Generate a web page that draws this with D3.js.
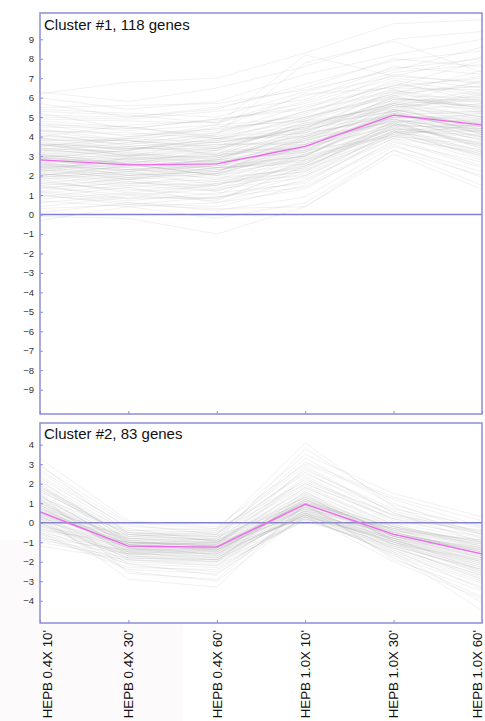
<!DOCTYPE html>
<html>
<head>
<meta charset="utf-8">
<script src="https://cdn.jsdelivr.net/npm/d3@7"></script>
<style>
  body { margin: 0; background: #fff; }
  svg { display: block; font-family: Arial, "Liberation Sans", sans-serif; }
</style>
</head>
<body>
<div id="chart"></div>
<script>
// conditions along the x axis
const timepoints = ["HEPB 0.4X 10'", "HEPB 0.4X 30'", "HEPB 0.4X 60'", "HEPB 1.0X 10'", "HEPB 1.0X 30'", "HEPB 1.0X 60'"];

const cluster1Title = "Cluster #1, 118 genes";
const cluster1Ticks = [-9, -8, -7, -6, -5, -4, -3, -2, -1, 0, 1, 2, 3, 4, 5, 6, 7, 8, 9];
const cluster1Mean = [2.8, 2.55, 2.6, 3.5, 5.1, 4.6];
const cluster1Genes = [
  [2.8,2.3,2.6,3.1,4.9,4.2],[3.6,3.1,2.7,4.3,5.5,5.9],[1.9,2.2,1.5,2.6,4.4,3.1],[4.3,3.7,4.5,4.8,6.1,6.8],
  [2.0,2.5,2.2,3.9,4.6,4.4],[5.2,4.4,4.9,5.5,6.6,7.9],[0.9,1.4,0.6,1.8,3.9,2.5],[3.1,2.6,3.3,3.4,5.6,4.1],
  [6.2,6.8,7.0,8.3,9.8,10.0],[2.5,1.9,2.4,4.0,4.7,5.2],[1.5,0.8,1.6,2.2,4.3,3.0],[3.9,3.8,3.0,4.6,5.3,6.2],
  [2.2,2.9,3.1,3.3,5.0,4.0],[4.6,4.0,4.4,6.2,6.5,7.1],[0.3,0.5,0.9,1.4,3.6,1.9],[3.3,3.0,2.6,3.8,5.9,5.5],
  [2.7,2.0,2.4,2.7,4.5,3.7],[1.2,1.7,1.3,3.0,4.1,4.6],[5.5,5.6,5.7,6.4,7.4,8.6],[2.9,2.6,2.0,3.5,5.2,4.3],
  [3.7,3.0,3.8,5.0,6.0,5.6],[1.8,2.1,1.9,2.3,4.8,3.4],[4.0,4.6,4.8,5.7,7.0,6.5],[2.4,1.8,2.3,2.9,4.2,4.8],
  [-0.3,0.4,-0.2,0.6,3.3,1.5],[3.0,3.4,3.6,3.7,5.8,5.0],[2.6,2.2,2.9,4.1,5.1,4.4],[4.8,4.5,3.9,4.6,5.7,6.9],
  [1.4,1.0,0.7,2.5,4.0,3.6],[3.4,3.2,2.8,3.2,5.4,4.5],[2.0,1.5,2.1,3.6,4.9,3.8],[6.0,5.4,5.8,7.2,8.2,9.0],
  [2.3,2.9,2.4,2.8,4.6,4.9],[3.8,3.3,3.9,4.4,6.3,5.3],[1.0,0.6,0.4,1.5,3.7,2.7],[2.8,3.1,3.4,4.5,5.3,5.7],
  [4.4,3.8,3.4,4.0,5.6,6.4],[2.1,1.7,1.2,2.4,4.5,3.2],[3.2,3.7,4.1,5.3,6.4,5.4],[1.7,1.2,1.6,2.0,4.2,4.3],
  [5.0,4.9,5.3,5.9,7.6,7.2],[2.6,2.4,1.8,3.1,4.4,4.0],[3.6,3.5,3.1,4.8,5.5,6.0],[0.6,1.0,1.3,1.9,4.3,2.9],
  [2.9,2.6,3.0,3.6,5.0,5.1],[4.1,3.6,4.2,5.2,6.8,5.8],[2.4,2.1,2.5,3.0,5.2,3.9],[1.3,1.9,2.1,3.3,4.0,4.7],
  [3.5,3.4,3.7,4.2,6.0,5.5],[6.3,5.8,6.5,7.6,9.0,9.4],[2.2,2.6,2.0,2.6,4.7,3.5],[3.0,2.5,2.8,4.4,5.1,5.3],
  [4.7,4.3,4.6,5.0,6.2,7.4],[1.6,1.3,1.0,2.8,4.1,3.3],[2.7,3.0,3.2,3.4,5.7,4.6],[3.9,3.4,3.3,4.7,5.4,6.3],
  [0.1,0.6,0.2,0.9,3.5,2.2],[2.5,2.3,2.7,3.2,5.3,4.1],[3.3,3.9,4.2,5.6,6.6,7.0],[1.9,1.4,1.7,2.2,4.6,3.6],
  [5.3,5.1,4.7,6.1,7.1,8.1],[2.8,2.7,2.2,3.7,4.8,4.8],[3.7,3.3,3.9,4.0,6.1,5.2],[1.1,1.5,1.2,2.7,4.4,3.9],
  [2.3,2.0,2.6,3.9,5.4,4.5],[4.3,4.1,4.4,4.9,6.7,6.1],[3.1,2.6,2.4,3.0,5.0,5.0],[2.0,2.5,2.8,4.2,4.9,4.2],
  [0.7,0.4,0.6,1.3,3.8,2.4],[3.6,3.0,3.4,4.5,5.9,5.8],[2.6,2.9,2.7,3.3,5.2,4.3],[5.7,5.0,5.4,6.7,7.9,8.4],
  [1.5,1.8,1.4,2.1,4.2,3.7],[3.2,2.8,3.1,4.3,5.6,4.9],[2.4,2.6,2.0,2.9,4.6,4.4],[4.5,4.4,4.9,5.4,7.2,6.7],
  [1.8,1.1,1.5,3.1,4.7,3.4],[2.9,3.3,3.6,3.6,5.8,5.6],[3.4,2.9,3.0,4.1,5.1,4.7],[0.4,0.9,0.8,2.3,4.0,3.1],
  [2.1,1.8,2.4,2.6,4.8,4.5],[3.8,3.8,3.5,4.9,6.2,6.6],[2.7,2.2,2.6,3.4,4.9,3.8],[4.9,4.8,4.7,5.8,7.3,7.7],
  [1.2,0.8,0.9,1.7,4.1,2.8],[3.0,3.0,3.3,4.6,5.7,5.4],[2.2,1.9,1.7,2.5,4.3,4.1],[3.5,4.0,4.3,5.1,6.9,6.2],
  [1.6,2.0,2.2,3.5,4.5,4.6],[4.2,3.5,3.8,4.2,5.9,5.9],[2.5,2.8,2.3,3.0,5.3,4.2],[-0.1,-0.2,-1.0,0.4,3.1,1.3],
  [3.3,3.1,2.9,4.0,5.2,5.2],[2.0,2.3,2.1,3.2,4.7,3.6],[5.1,5.0,5.5,6.5,8.0,7.6],[2.8,2.4,2.8,3.5,5.0,4.9],
  [1.4,1.6,1.8,2.4,4.6,3.5],[3.6,3.4,3.4,4.7,5.6,6.1],[2.3,1.8,2.1,2.8,4.4,4.3],[4.0,3.9,3.7,4.4,6.4,5.7],
  [0.8,1.1,0.8,2.0,3.9,3.2],[3.1,3.5,3.7,4.3,6.0,5.5],[2.6,2.0,2.2,3.8,4.8,4.0],[1.9,2.2,2.5,3.0,5.1,4.8],
  [4.6,4.5,4.0,5.3,6.3,6.6],[2.9,2.7,2.7,3.3,5.4,4.4],[3.4,3.2,3.5,4.5,5.7,5.0],[1.1,0.7,1.1,1.6,4.2,3.0],
  [2.4,2.7,2.9,3.8,5.0,4.7],[3.9,3.6,4.0,4.8,6.5,6.4],[2.1,1.6,1.5,2.5,4.3,3.3],[5.4,5.2,5.0,6.3,7.5,8.0],
  [3.5,3.9,4.6,8.2,7.1,6.8],[2.9,3.3,4.1,7.8,8.9,7.3],[1.0,0.5,0.3,0.4,3.3,2.0],[2.5,2.3,2.5,3.6,5.1,4.5],
  [4.3,4.2,3.9,5.0,6.1,6.0],[3.0,2.8,3.0,3.9,5.3,5.3]
];

const cluster2Title = "Cluster #2, 83 genes";
const cluster2Ticks = [-4, -3, -2, -1, 0, 1, 2, 3, 4];
const cluster2Mean = [0.55, -1.2, -1.25, 0.95, -0.6, -1.6];
const cluster2Genes = [
  [0.5,-1.2,-1.3,0.9,-0.6,-1.5],[1.2,-0.8,-0.9,1.5,-0.2,-1.0],[-0.3,-1.6,-1.7,0.4,-1.0,-2.2],[2.1,-0.5,-0.7,2.2,0.4,-0.6],
  [0.2,-1.4,-1.1,0.7,-0.9,-1.9],[3.3,0.1,-0.2,3.0,1.2,-0.2],[-0.8,-2.1,-2.3,0.2,-1.4,-2.9],[0.9,-1.0,-1.5,1.1,-0.4,-1.3],
  [1.6,-0.6,-0.4,4.1,0.8,-0.8],[0.0,-1.8,-1.9,0.5,-1.1,-2.6],[0.7,-1.1,-0.8,1.3,-0.3,-1.7],[2.6,-0.3,-1.0,1.8,-0.1,-1.1],
  [-0.5,-1.5,-1.4,0.3,-0.8,-2.0],[1.0,-1.3,-1.6,0.8,-0.7,-1.4],[0.4,-2.9,-3.3,1.0,-1.9,-3.5],[1.8,-0.7,-0.6,2.6,0.3,-0.5],
  [-1.2,-1.9,-2.0,0.1,-1.2,-2.4],[0.6,-0.9,-1.2,1.2,-0.5,-1.6],[1.4,-1.2,-1.0,1.7,-0.4,-0.9],[0.1,-1.7,-1.8,0.6,-1.0,-2.1],
  [2.9,0.0,-0.3,3.5,1.5,0.3],[0.3,-1.3,-1.4,0.8,-0.8,-1.8],[-0.2,-1.0,-1.2,0.5,-0.6,-1.3],[1.1,-1.5,-1.9,1.4,-0.9,-2.3],
  [0.8,-0.8,-0.7,1.0,-0.2,-1.2],[-0.6,-2.4,-2.6,0.3,-1.6,-3.1],[2.3,-0.4,-0.5,2.0,0.2,-0.4],[0.4,-1.1,-1.3,0.9,-0.7,-1.7],
  [1.5,-1.0,-1.1,2.8,0.5,-1.0],[-0.1,-1.4,-1.6,0.4,-1.3,-2.7],[0.9,-1.6,-1.4,1.1,-0.5,-1.4],[0.2,-0.6,-0.9,0.7,-0.3,-0.9],
  [1.9,-1.1,-1.7,1.6,-1.0,-2.0],[-0.4,-1.9,-2.1,0.2,-1.5,-3.0],[0.6,-1.2,-1.0,1.3,-0.6,-1.5],[1.3,-0.5,-0.6,3.3,0.9,-0.3],
  [-0.9,-1.6,-1.5,0.3,-0.9,-2.2],[0.5,-1.3,-1.8,0.8,-1.1,-1.9],[2.0,-0.9,-0.8,1.9,-0.1,-1.2],[0.0,-2.2,-2.5,0.5,-1.7,-3.3],
  [1.0,-1.0,-1.2,1.0,-0.4,-1.1],[0.3,-1.5,-1.3,0.6,-0.8,-2.5],[1.7,-0.8,-1.1,2.4,0.1,-0.7],[-0.7,-2.0,-2.2,0.1,-1.3,-2.8],
  [0.8,-1.4,-1.5,1.2,-0.7,-1.6],[2.4,-0.2,-0.4,2.5,0.6,-0.5],[0.1,-1.1,-1.0,0.4,-0.5,-1.4],[1.2,-1.7,-2.0,1.5,-1.2,-2.4],
  [-0.3,-1.2,-1.4,0.7,-0.9,-2.0],[0.7,-0.7,-0.9,1.1,-0.2,-1.0],[1.5,-2.6,-2.9,0.9,-1.8,-3.8],[0.4,-1.0,-1.1,0.8,-0.6,-1.3],
  [3.0,-0.6,-0.9,3.8,1.0,-0.6],[-1.0,-1.8,-1.9,0.2,-1.1,-2.3],[0.6,-1.3,-1.2,1.0,-0.7,-1.8],[1.1,-0.9,-1.4,1.4,-0.4,-1.2],
  [0.2,-1.6,-1.7,0.5,-1.0,-2.6],[1.8,-0.4,-0.3,2.1,0.4,-0.4],[-0.5,-2.3,-2.4,0.3,-1.6,-4.5],[0.9,-1.2,-1.3,1.2,-0.5,-1.5],
  [0.3,-0.8,-1.0,0.6,-0.3,-1.1],[2.2,-1.0,-1.2,2.3,0.0,-0.9],[-0.2,-1.5,-1.6,0.4,-1.2,-2.9],[1.3,-1.1,-0.9,1.3,-0.6,-1.4],
  [0.5,-1.9,-2.2,0.9,-1.4,-3.4],[1.6,-0.6,-0.7,2.7,0.7,-0.2],[-0.8,-1.4,-1.3,0.2,-0.8,-1.9],[0.7,-1.3,-1.5,1.1,-0.8,-1.7],
  [2.7,-0.1,-0.6,3.1,1.3,0.1],[0.0,-1.7,-1.9,0.5,-1.1,-2.5],[1.0,-0.9,-1.0,1.0,-0.3,-1.0],[0.4,-2.1,-2.7,0.7,-1.5,-4.1],
  [1.4,-1.2,-1.1,1.8,-0.2,-1.3],[-0.4,-1.0,-1.2,0.3,-0.7,-1.6],[0.8,-1.5,-1.6,1.2,-0.9,-2.1],[1.9,-0.7,-0.5,2.9,0.5,-0.6],
  [-0.1,-1.8,-2.0,0.6,-1.3,-2.7],[0.6,-1.1,-1.4,0.9,-0.5,-1.5],[1.2,-1.4,-1.3,1.6,-0.7,-1.8],[0.2,-2.5,-3.0,0.4,-2.0,-3.9],
  [1.7,-0.5,-0.8,2.0,0.2,-0.8],[-0.6,-1.6,-1.8,0.4,-1.0,-2.4],[0.5,-1.2,-1.2,1.0,-0.6,-1.6]
];

var cfg = {
  w: 485,
  h: 721,
  left: 40,
  right: 482,
  border: "#8d8dd8",
  geneColor: "#a6a6a6",
  meanColor: "#f066f0"
};

var svg = d3.select("#chart")
  .append("svg")
  .attr("width", cfg.w)
  .attr("height", cfg.h);

// faint tinted patch behind the lower left corner
svg.append("rect")
  .attr("x", 0).attr("y", 540)
  .attr("width", 183).attr("height", 181)
  .attr("fill", "#fcfafa");

var x = d3.scalePoint()
  .domain(timepoints)
  .range([cfg.left, cfg.right]);

function drawPanel(genes, mean, ticks, title, top, bottom, domain, titleY) {
  var y = d3.scaleLinear().domain(domain).range([bottom, top]);
  var g = svg.append("g");

  g.append("rect")
    .attr("x", cfg.left).attr("y", top)
    .attr("width", cfg.right - cfg.left).attr("height", bottom - top)
    .attr("fill", "#fff");

  // zero line sits under the gene profiles
  g.append("line")
    .attr("x1", cfg.left).attr("x2", cfg.right)
    .attr("y1", y(0)).attr("y2", y(0))
    .attr("stroke", "#7f7fd6")
    .attr("stroke-width", 1.5);

  var line = d3.line()
    .x((d, i) => x(timepoints[i]))
    .y(d => y(d));

  g.selectAll("path.gene")
    .data(genes)
    .enter()
    .append("path")
    .attr("class", "gene")
    .attr("d", line)
    .attr("fill", "none")
    .attr("stroke", cfg.geneColor)
    .attr("stroke-opacity", 0.16)
    .attr("stroke-width", 1);

  g.append("path")
    .attr("d", line(mean))
    .attr("fill", "none")
    .attr("stroke", cfg.meanColor)
    .attr("stroke-width", 1.3);

  // y axis: ticks point inward
  var yAxis = g.append("g")
    .attr("transform", "translate(" + cfg.left + ",0)")
    .call(d3.axisLeft(y).tickValues(ticks).tickSize(-3).tickPadding(6).tickFormat(d3.format("d")));
  yAxis.select(".domain").remove();
  yAxis.selectAll(".tick line").attr("stroke", cfg.border);
  yAxis.selectAll(".tick text")
    .attr("fill", "#333")
    .style("font-size", "9.5px")
    .style("font-family", "Arial, 'Liberation Sans', sans-serif");

  var xAxis = g.append("g")
    .attr("transform", "translate(0," + bottom + ")")
    .call(d3.axisBottom(x).tickSize(-3).tickFormat(""));
  xAxis.select(".domain").remove();
  xAxis.selectAll(".tick line").attr("stroke", cfg.border);

  g.append("rect")
    .attr("x", cfg.left).attr("y", top)
    .attr("width", cfg.right - cfg.left).attr("height", bottom - top)
    .attr("fill", "none")
    .attr("stroke", cfg.border)
    .attr("stroke-width", 1.5);

  g.append("text")
    .attr("x", cfg.left + 4)
    .attr("y", titleY)
    .attr("fill", "#111")
    .style("font-size", "15px")
    .text(title);
}

drawPanel(cluster1Genes, cluster1Mean, cluster1Ticks, cluster1Title, 13, 414, [-10.25, 10.35], 30);
drawPanel(cluster2Genes, cluster2Mean, cluster2Ticks, cluster2Title, 423, 623, [-5.14, 5.11], 439);

// rotated condition labels under the lower panel
svg.selectAll("text.cond")
  .data(timepoints)
  .enter()
  .append("text")
  .attr("class", "cond")
  .attr("transform", d => {
    var cx = Math.min(Math.max(x(d), 47), 477);
    return "translate(" + (cx + 4.8) + ",630) rotate(-90)";
  })
  .attr("text-anchor", "end")
  .attr("fill", "#111")
  .style("font-size", "13.3px")
  .text(d => d);
</script>
</body>
</html>
